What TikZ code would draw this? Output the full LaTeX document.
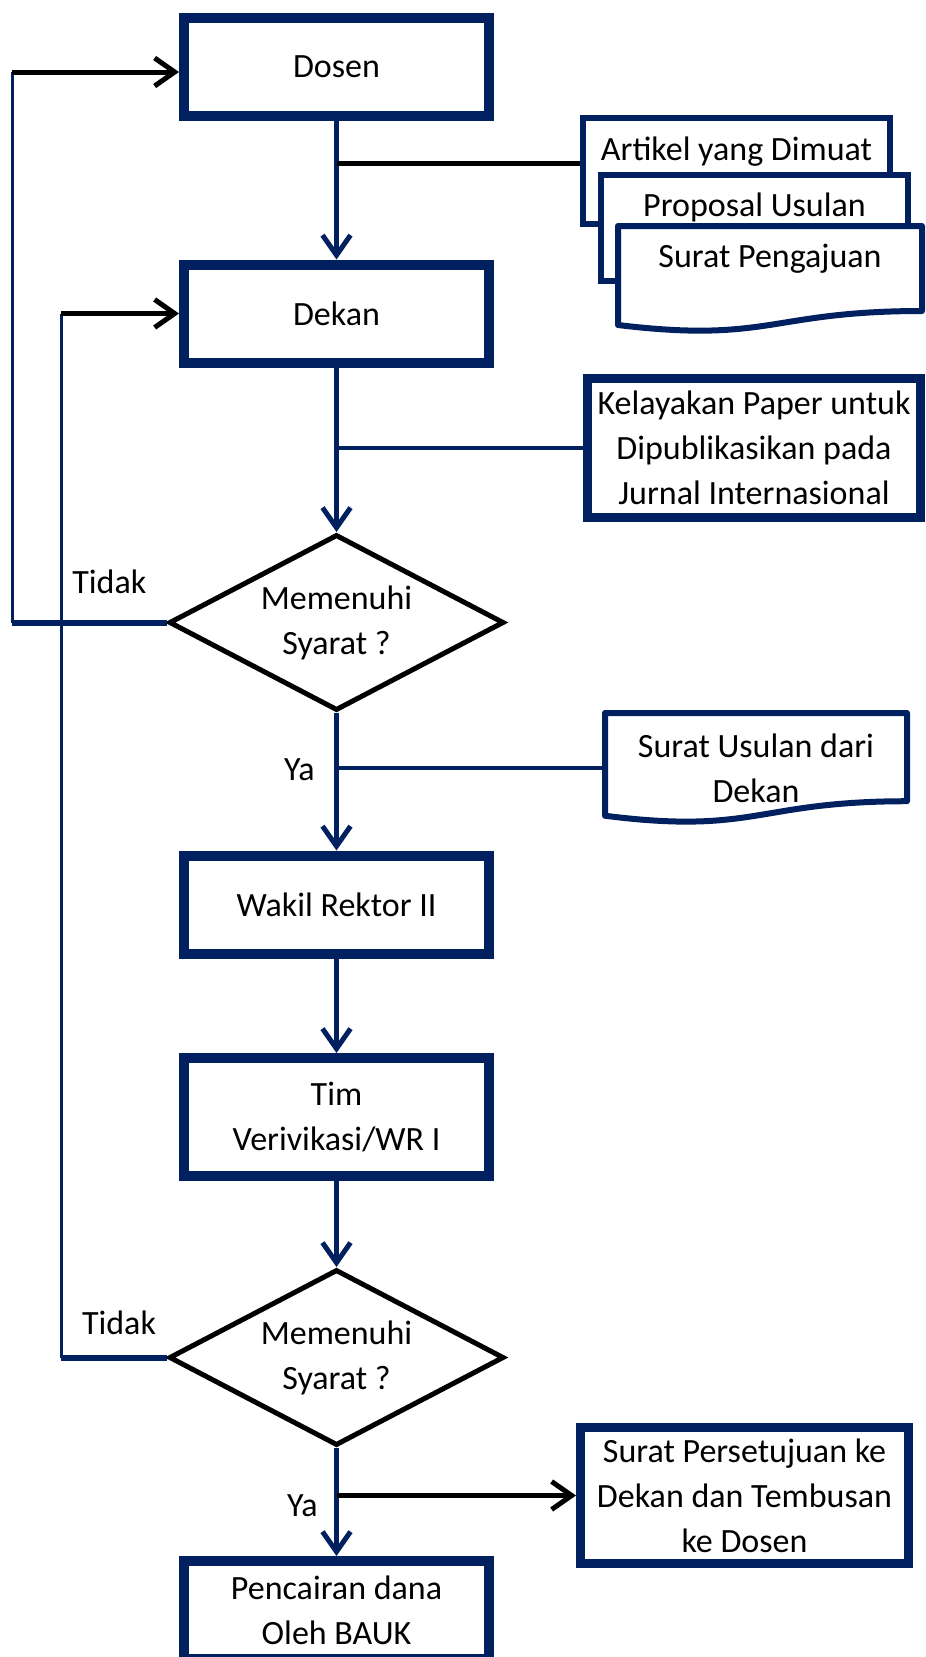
\documentclass[tikz,border=0pt]{standalone}
\usepackage{fontspec}
\setmainfont{Carlito}
\usepackage{tikz}
\usetikzlibrary{arrows.meta,calc,positioning,shapes.geometric}
\definecolor{navy}{RGB}{0,32,96}
\newcommand{\bigfont}{\fontsize{34pt}{45pt}\selectfont}

\begin{document}
\begin{tikzpicture}[x=1pt,y=-1pt,font=\bigfont,
                proc/.style={rectangle,draw=navy,line width=10pt,fill=white,
                  minimum width=305pt,minimum height=98pt,align=center},
                cond/.style={diamond,draw=black,line width=5pt,inner sep=0pt,aspect=1.9,
                  minimum width=335pt,minimum height=176pt,align=center},
                memo/.style={rectangle,draw=navy,line width=9pt,fill=white,align=center},
                sheet/.style={rectangle,draw=navy,line width=6pt,fill=white,
                  minimum width=307pt,inner ysep=0pt,text height=42pt,text depth=64pt},
                wavy/.style={rectangle,fill=white,outer sep=0pt,align=center},
                docline/.style={draw=navy,line width=6pt,line join=round},
                flow/.style={draw=navy,line width=5pt,-{Straight Barb[length=20pt,width=28pt]}},
                back/.style={draw=black,line width=5pt,-{Straight Barb[length=20pt,width=28pt]}}]
            \useasboundingbox (0,0) rectangle (926,1657);
            % main column
            \node [proc]   (dosen)   at (336.5,67)                           {Dosen};
            \node [proc]   (dekan)   [below of=dosen, node distance=246.5pt]  {Dekan};
            \node [cond]   (syarat1) [below of=dekan, node distance=309pt]    {Memenuhi\\Syarat ?};
            \node [proc]   (wr2)     [below of=syarat1, node distance=282pt]  {Wakil Rektor II};
            \node [proc,minimum height=118pt] (tim) [below of=wr2, node distance=212.5pt] {Tim\\Verivikasi/WR I};
            \node [cond]   (syarat2) [below of=tim, node distance=240.5pt]    {Memenuhi\\Syarat ?};
            \node [proc]   (bauk)    [below of=syarat2, node distance=252.5pt] {Pencairan dana\\Oleh BAUK};
            % documents on the right
            \node [sheet]  (artikel)  at (736.5,171)   {Artikel yang Dimuat};
            \node [sheet]  (proposal) at (754.5,227.5) {Proposal Usulan};
            \node [wavy,minimum width=304pt,inner ysep=0pt,text height=41pt,text depth=65pt]
                           (pengajuan) at (770,279)    {Surat Pengajuan};
            \draw [docline] (pengajuan.north west) -- (pengajuan.north east)
                -- ($(pengajuan.south east)!0.198!(pengajuan.north east)$)
                .. controls ($(pengajuan.south)!0.198!(pengajuan.north)$) and ($(pengajuan.south)!-0.1075!(pengajuan.north)$)
                .. ($(pengajuan.south west)!0.066!(pengajuan.north west)$) -- cycle;
            \node [memo,minimum width=333pt,minimum height=139pt] (kelayakan) at (754,448)
                {Kelayakan Paper untuk\\Dipublikasikan pada\\Jurnal Internasional};
            \node [wavy,minimum width=302pt,minimum height=110pt] (usulan) at (756,768)
                {Surat Usulan dari\\Dekan};
            \draw [docline] (usulan.north west) -- (usulan.north east)
                -- ($(usulan.south east)!0.198!(usulan.north east)$)
                .. controls ($(usulan.south)!0.198!(usulan.north)$) and ($(usulan.south)!-0.1075!(usulan.north)$)
                .. ($(usulan.south west)!0.066!(usulan.north west)$) -- cycle;
            \node [memo,minimum width=328pt,minimum height=136pt] (setuju) at (744.5,1495.5)
                {Surat Persetujuan ke\\Dekan dan Tembusan\\ke Dosen};
            % loop corners
            \coordinate (loopa) at (syarat1.west -| 12,0);
            \coordinate (loopb) at (12,72);
            \coordinate (loopc) at (syarat2.west -| 61,0);
            \coordinate (loopd) at (dekan.west -| 61,0);
            \coordinate (cab1)  at (dosen.south |- 0,163);
            % arrows
            \draw [flow] (dosen) -- (dekan);
            \draw [flow] (dekan) -- (syarat1);
            \draw [flow] (syarat1) -- node [left=16pt,pos=.41] {Ya} (wr2);
            \draw [flow] (wr2) -- (tim);
            \draw [flow] (tim) -- (syarat2);
            \draw [flow] (syarat2) -- node [left=13pt,pos=.53] {Ya} (bauk);
            \draw [black,line width=5pt] (cab1) -- (cab1 -| artikel.west);
            \draw [draw=navy,line width=4pt] (kelayakan.west -| dekan.south) -- (kelayakan.west);
            \draw [draw=navy,line width=4pt] (usulan.west -| syarat1.south) -- (usulan.west);
            \draw [back] (setuju.west -| syarat2.south) -- (setuju.west);
            \draw [draw=navy,line width=6pt] (syarat1.west) -- node [above=22pt,pos=.37] {Tidak} (loopa);
            \draw [draw=navy,line width=3pt] (loopa) -- (loopb);
            \draw [back] (loopb) -- (loopb -| dosen.west);
            \draw [draw=navy,line width=6pt] (syarat2.west) -- node [above=16pt,pos=.45] {Tidak} (loopc);
            \draw [draw=navy,line width=3pt] (loopc) -- (loopd);
            \draw [back] (loopd) -- (dekan.west);
\end{tikzpicture}
\end{document}
